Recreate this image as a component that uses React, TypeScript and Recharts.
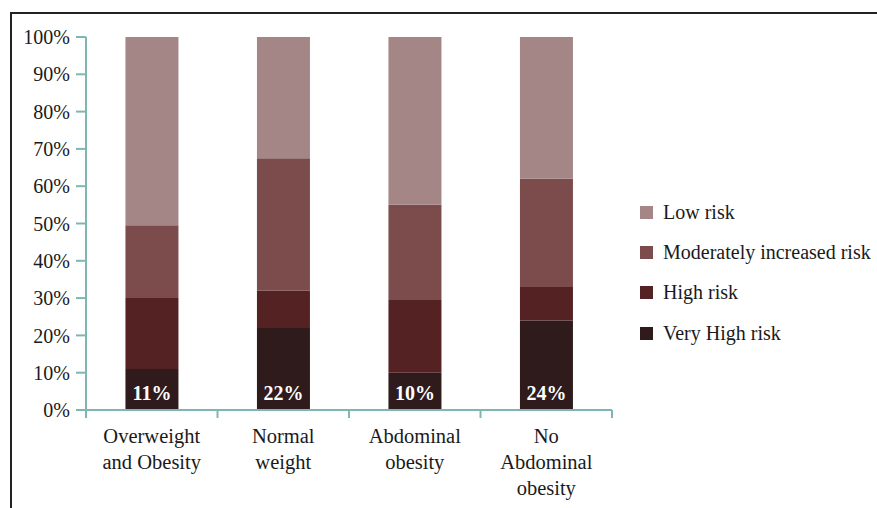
import React from "react";
import { BarChart, Bar, XAxis, YAxis, LabelList } from "recharts";

const categories = ["Overweight\nand Obesity", "Normal\nweight", "Abdominal\nobesity", "No\nAbdominal\nobesity"];
const veryHigh = [11, 22, 10, 24];
const high = [19, 10, 19.5, 9];
const moderate = [19.5, 35.5, 25.5, 29];
const low = [50.5, 32.5, 45, 38];
const yTicks = [0, 10, 20, 30, 40, 50, 60, 70, 80, 90, 100];

const seriesNames = ["Very High risk", "High risk", "Moderately increased risk", "Low risk"];
const colors = ["#2f1b1c", "#552224", "#7c4b4b", "#a48686"];

const data = categories.map((c, i) => ({
  name: c,
  vh: veryHigh[i],
  h: high[i],
  m: moderate[i],
  l: low[i],
}));

const FONT = "Liberation Serif, DejaVu Serif, serif";
const AXIS = "#80b6b2";
const CHART_W = 877;
const CHART_H = 508;
const PLOT_LEFT = 86;
const PLOT_RIGHT = 612;
const halfBand = (PLOT_RIGHT - PLOT_LEFT) / categories.length / 2;

const XTick = (props: any) => {
  const { x, y, payload, index } = props;
  const lines = String(payload.value).split("\n");
  const axisY = y - 8;
  return (
    <g>
      <line x1={x - halfBand} x2={x - halfBand} y1={axisY} y2={axisY + 8} stroke={AXIS} strokeWidth={2} />
      {index === categories.length - 1 && (
        <line x1={x + halfBand} x2={x + halfBand} y1={axisY} y2={axisY + 8} stroke={AXIS} strokeWidth={2} />
      )}
      <text x={x} y={y} textAnchor="middle" fontFamily={FONT} fontSize={20.5} fill="#1a1a1a">
        {lines.map((ln, i) => (
          <tspan key={i} x={x} dy={i === 0 ? 25 : 26}>
            {ln}
          </tspan>
        ))}
      </text>
    </g>
  );
};

const VhLabel = (props: any) => {
  const { x, y, width, height, value } = props;
  return (
    <text
      x={x + width / 2}
      y={y + height - 10}
      textAnchor="middle"
      fontFamily={FONT}
      fontSize={20}
      fontWeight="bold"
      fill="#ffffff"
    >
      {`${value}%`}
    </text>
  );
};

const LegendBox = () => {
  const order = [3, 2, 1, 0];
  return (
    <div style={{ position: "absolute", left: 640, top: 192, fontFamily: FONT, fontSize: 20, color: "#1a1a1a" }}>
      {order.map((idx) => (
        <div key={idx} style={{ display: "flex", alignItems: "center", height: 40.3 }}>
          <div style={{ width: 13, height: 13, background: colors[idx], marginRight: 10 }} />
          <span style={{ whiteSpace: "nowrap" }}>{seriesNames[idx]}</span>
        </div>
      ))}
    </div>
  );
};

export default function App() {
  return (
    <div style={{ position: "absolute", left: 0, top: 0, width: CHART_W, height: CHART_H, background: "#fff", overflow: "hidden" }}>
      <div style={{ position: "absolute", left: 10, top: 12, right: 0, height: 2, background: "#222" }} />
      <div style={{ position: "absolute", left: 10, top: 12, bottom: 0, width: 2, background: "#222" }} />
      <div style={{ position: "absolute", left: 0, top: 0 }}>
        <BarChart
          width={CHART_W}
          height={CHART_H}
          data={data}
          margin={{ top: 37, right: CHART_W - PLOT_RIGHT, left: 0, bottom: 0 }}
          barCategoryGap="30%"
        >
          <XAxis
            dataKey="name"
            height={98}
            tick={<XTick />}
            tickLine={false}
            axisLine={{ stroke: AXIS, strokeWidth: 2 }}
            interval={0}
          />
          <YAxis
            width={PLOT_LEFT}
            domain={[0, 100]}
            ticks={yTicks}
            tickFormatter={(v: number) => `${v}%`}
            tickSize={10}
            tickMargin={6}
            tick={{ fontFamily: FONT, fontSize: 20, fill: "#1a1a1a" }}
            tickLine={{ stroke: AXIS, strokeWidth: 2 }}
            axisLine={{ stroke: AXIS, strokeWidth: 2 }}
            interval={0}
          />
          <Bar dataKey="vh" stackId="a" fill={colors[0]} isAnimationActive={false} name={seriesNames[0]}>
            <LabelList dataKey="vh" content={<VhLabel />} />
          </Bar>
          <Bar dataKey="h" stackId="a" fill={colors[1]} isAnimationActive={false} name={seriesNames[1]} />
          <Bar dataKey="m" stackId="a" fill={colors[2]} isAnimationActive={false} name={seriesNames[2]} />
          <Bar dataKey="l" stackId="a" fill={colors[3]} isAnimationActive={false} name={seriesNames[3]} />
        </BarChart>
      </div>
      <LegendBox />
    </div>
  );
}
